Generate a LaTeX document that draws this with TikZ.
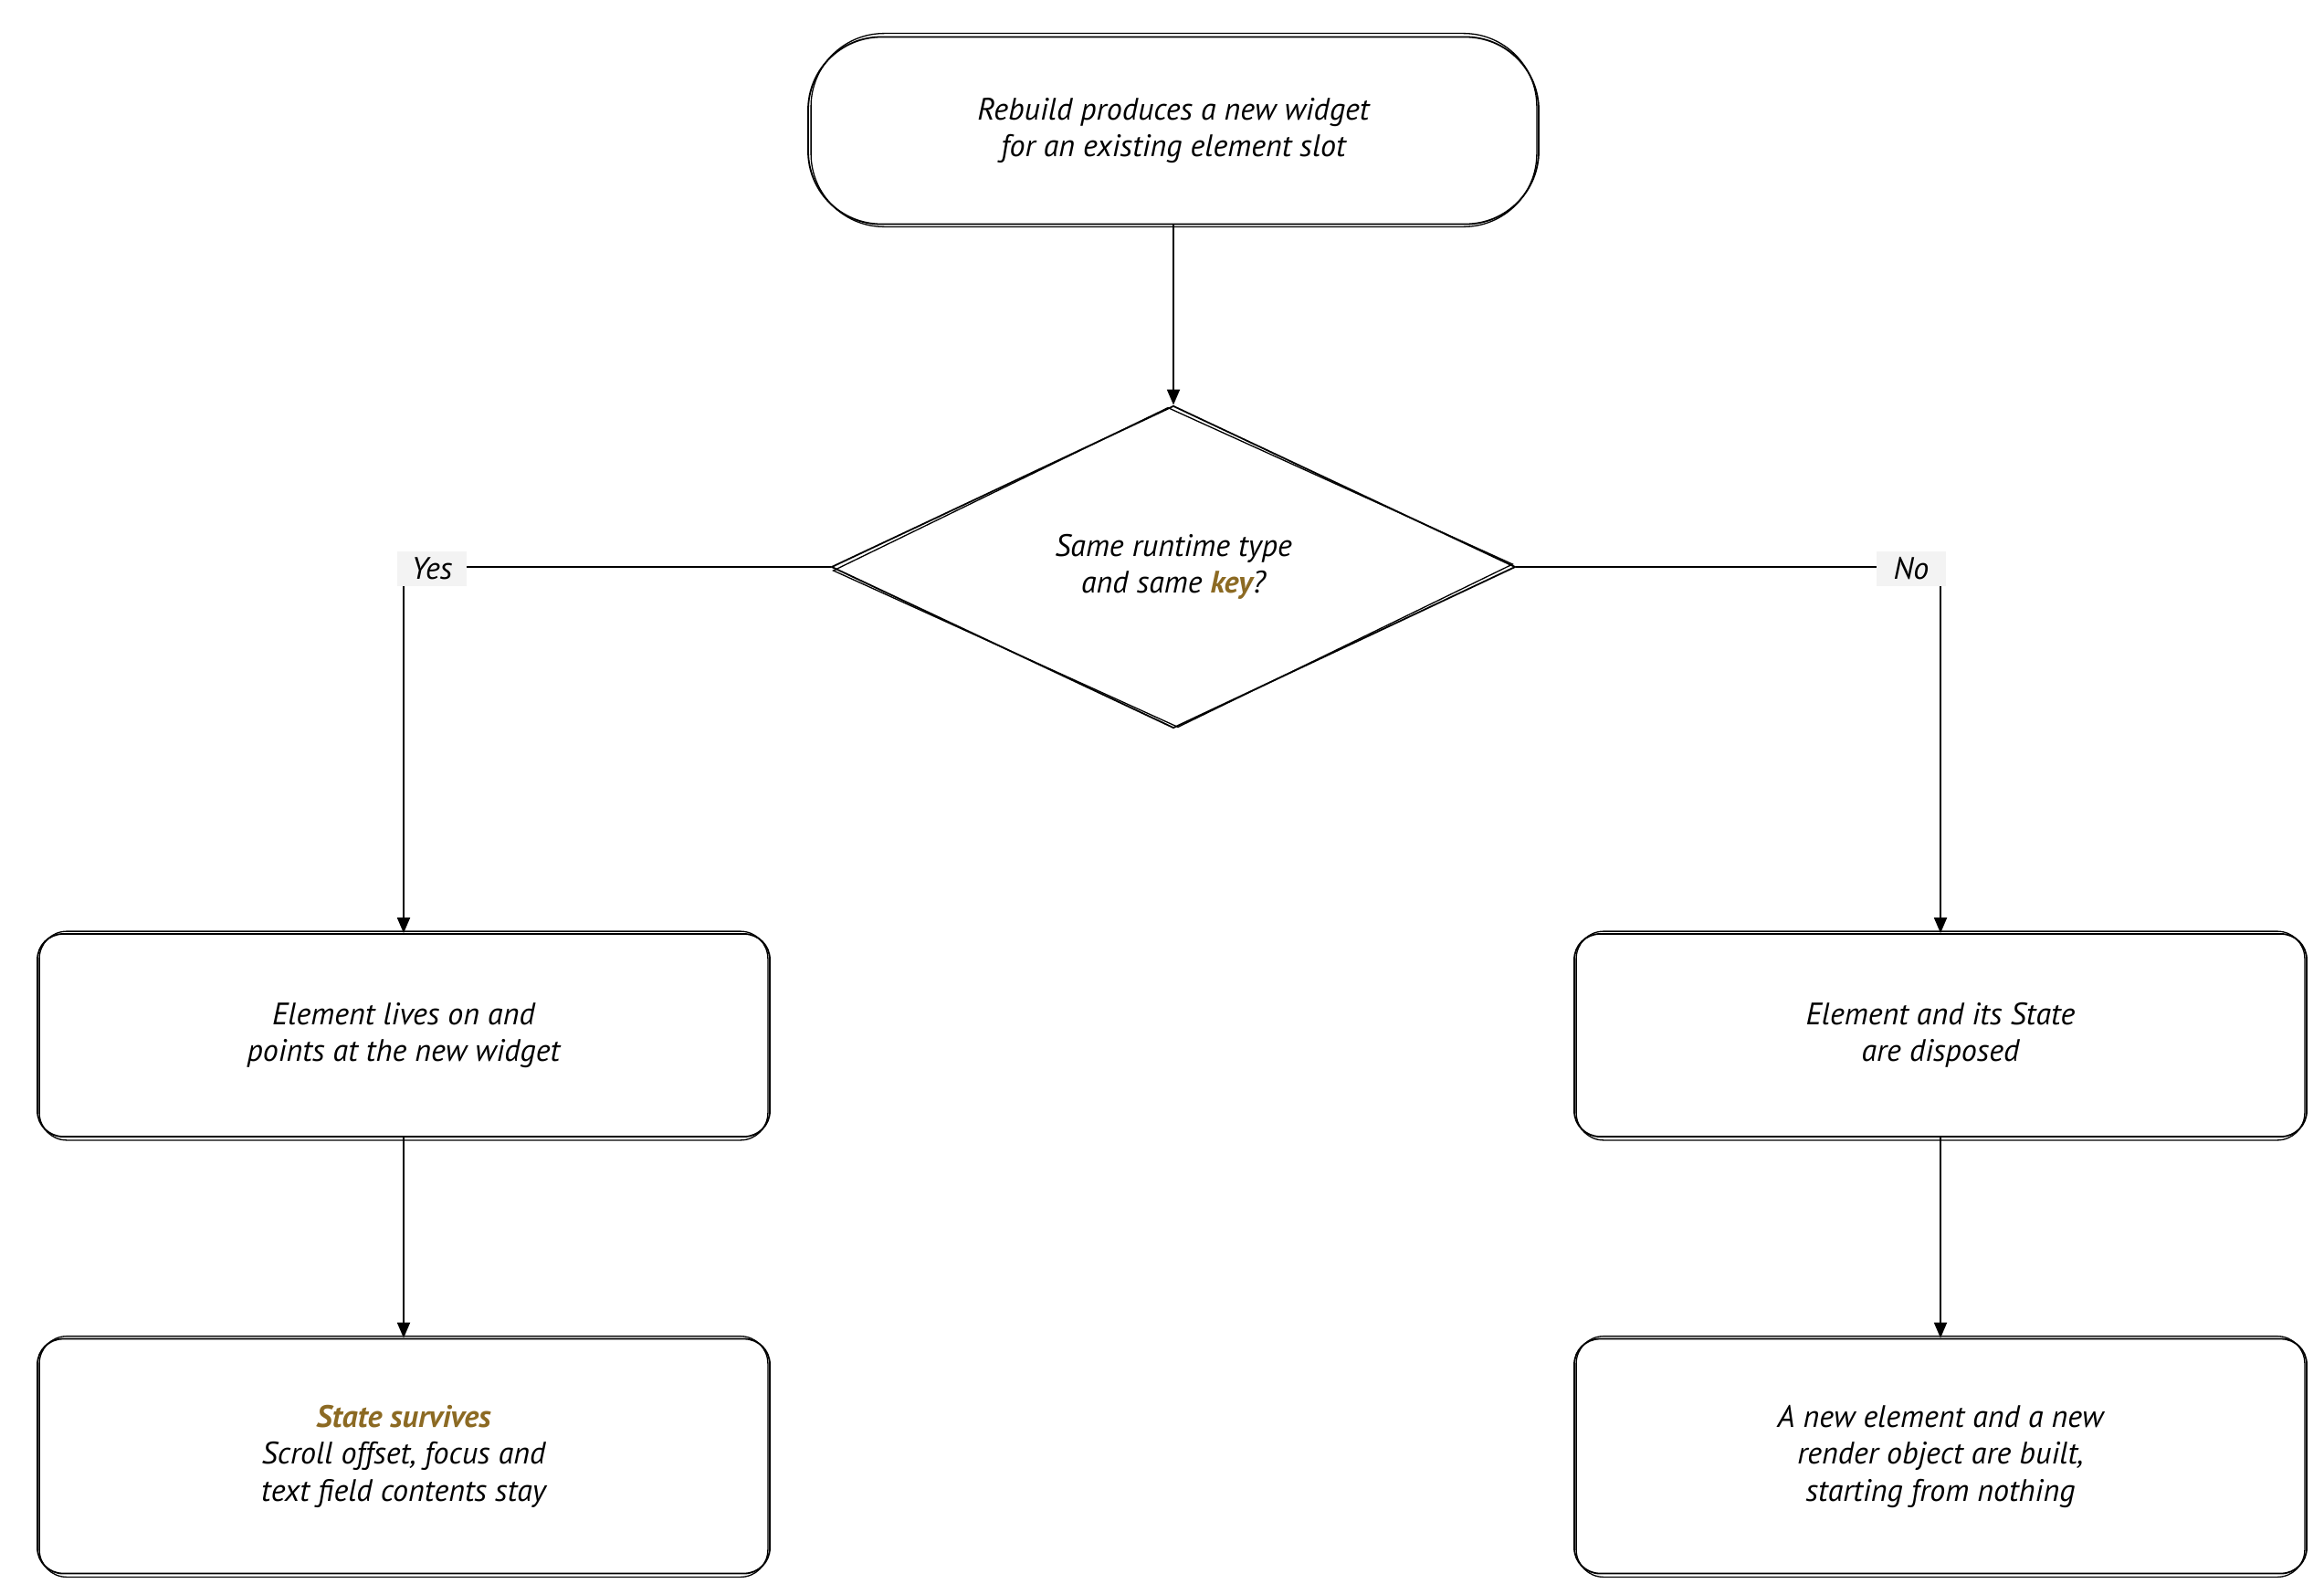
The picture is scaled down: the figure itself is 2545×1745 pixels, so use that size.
\documentclass[tikz,border=0pt]{standalone}
\usepackage{fontspec}
\setmainfont{PT Sans}
\usetikzlibrary{shapes.geometric,arrows.meta,calc}
\definecolor{keybrown}{HTML}{8C6A23}
\definecolor{lblbg}{HTML}{F3F3F3}
\begin{document}
\begin{tikzpicture}[x=1pt,y=-1pt,
  every node/.style={font=\fontsize{34}{40.5}\selectfont\itshape},
  box/.style={draw, line width=1.8pt, align=center, inner sep=0pt},
  rbox/.style={box, rounded corners=28pt, minimum width=802pt},
  ghost/.style={line width=1.3pt},
  arr/.style={line width=1.8pt, -{Triangle[length=17pt,width=14pt]}},
  lbl/.style={fill=lblbg, inner sep=0pt, minimum width=76pt, minimum height=38pt}]
\useasboundingbox (0,0) rectangle (2545,1745);
\fill[white] (0,0) rectangle (2545,1745);
% nodes
\node[box, rounded corners=80pt, minimum width=800pt, minimum height=205pt] (top) at (1285,143)
  {Rebuild produces a new widget\\for an existing element slot};
\node[box, shape=diamond, minimum width=749pt, minimum height=353pt, aspect=2.12] (dec) at (1285,621)
  {Same runtime type\\and same {\bfseries\color{keybrown}key}?};
\node[rbox, minimum height=222pt] (yes1) at (442,1134)
  {Element lives on and\\points at the new widget};
\node[rbox, minimum height=257pt] (yes2) at (442,1595)
  {{\bfseries\color{keybrown}State survives}\\Scroll offset, focus and\\text field contents stay};
\node[rbox, minimum height=222pt] (no1) at (2125,1134)
  {Element and its State\\are disposed};
\node[rbox, minimum height=257pt] (no2) at (2125,1595)
  {A new element and a new\\render object are built,\\starting from nothing};
% sketchy second outlines
\draw[ghost, rounded corners=80pt] ($(top.north west)+(4,-3)$) rectangle ($(top.south east)+(-3,2)$);
\draw[ghost] ($(dec.north)+(-6,3)$) -- ($(dec.east)+(-4,-3)$) -- ($(dec.south)+(5,-2)$) -- ($(dec.west)+(3,4)$) -- cycle;
\foreach \n in {yes1,yes2,no1,no2}{
  \draw[ghost, rounded corners=30pt] ($(\n.north west)+(3,-2)$) rectangle ($(\n.south east)+(-3,3)$);
}
% connectors
\draw[arr] (top.south) -- (dec.north);
\draw[arr] (dec.west) -| (yes1.north);
\draw[arr] (dec.east) -| (no1.north);
\draw[arr] (yes1.south) -- (yes2.north);
\draw[arr] (no1.south) -- (no2.north);
% labels
\node[lbl] (ly) at (473,623) {Yes};
\node[lbl] (ln) at (2093,623) {No};
\end{tikzpicture}
\end{document}
